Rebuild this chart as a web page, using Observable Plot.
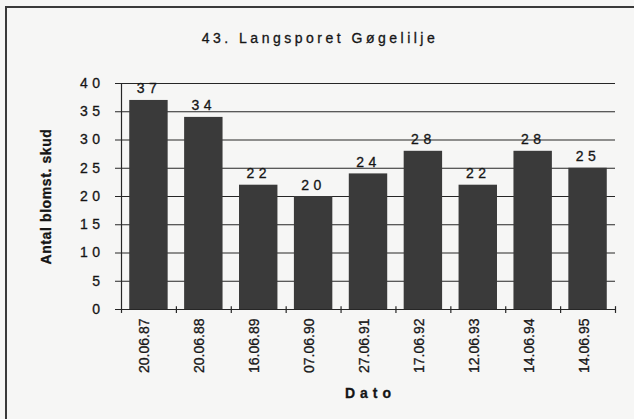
<!DOCTYPE html>
<html>
<head>
<meta charset="utf-8">
<script src="https://cdn.jsdelivr.net/npm/d3@7"></script>
<script src="https://cdn.jsdelivr.net/npm/@observablehq/plot@0.6"></script>
<style>
  html, body { margin: 0; padding: 0; background: #f6f6f5; }
  #wrap { position: relative; width: 634px; height: 419px; overflow: hidden; font-family: "Liberation Sans", Arial, sans-serif; }
  #border { position: absolute; left: 5px; top: 6px; width: 700px; height: 500px; border-left: 2px solid #3a3a3a; border-top: 2px solid #3a3a3a; }
  #title { position: absolute; left: 0; top: 30px; width: 634px; text-align: center; font-size: 14px; letter-spacing: 3.5px; color: #151515; padding-left: 3px; -webkit-text-stroke: 0.3px #151515; }
  #chart { position: absolute; left: 0; top: 0; }
  #chart svg text { stroke: #151515; stroke-width: 0.3px; }
</style>
</head>
<body>
<div id="wrap">
  <div id="border"></div>
  <div id="chart"></div>
  <div id="title">43. Langsporet Gøgelilje</div>
</div>
<script>
const dates = ["20.06.87", "20.06.88", "16.06.89", "07.06.90", "27.06.91", "17.06.92", "12.06.93", "14.06.94", "14.06.95"];
const counts = [37, 34, 22, 20, 24, 28, 22, 28, 25];
const yTicks = [0, 5, 10, 15, 20, 25, 30, 35, 40];
const yLabel = "Antal blomst. skud";
const xLabel = "Dato";

const data = dates.map((d, i) => ({dato: d, antal: counts[i]}));

const chart = Plot.plot({
  width: 634,
  height: 419,
  marginLeft: 121,
  marginRight: 19,
  marginTop: 83,
  marginBottom: 110,
  style: {background: "transparent", fontFamily: "Liberation Sans, Arial, sans-serif", fontSize: "14px", color: "#151515"},
  x: {domain: dates, paddingInner: 0.3, paddingOuter: 0.15, round: false, label: null},
  y: {domain: [0, 40], label: null},
  marks: [
    Plot.gridY(yTicks, {stroke: "#262626", strokeOpacity: 1, strokeWidth: 1.2}),
    Plot.barY(data, {x: "dato", y: "antal", fill: "#3a3a3a"}),
    Plot.ruleY([0], {stroke: "#262626", strokeWidth: 1.2}),
    Plot.ruleX([dates[0]], {x: d => d, dx: -27.45, y1: 0, y2: 40, stroke: "#262626", strokeWidth: 1.2}),
    Plot.ruleX(dates, {x: d => d, dx: 27.45, y1: -0.7, y2: 0.5, stroke: "#262626", strokeWidth: 1.2}),
    Plot.ruleX([dates[0]], {x: d => d, dx: -27.45, y1: -0.7, y2: 0, stroke: "#262626", strokeWidth: 1.2}),
    Plot.axisY(yTicks, {tickSize: 6, tickPadding: 11, label: null, stroke: "#262626", fontSize: 14}),
    Plot.axisX({tickRotate: -90, tickSize: 0, tickPadding: 9, dx: -4, label: null, fontSize: 14}),
    Plot.text(data, {x: "dato", y: "antal", text: d => String(d.antal), lineAnchor: "bottom", dy: -7, fontSize: 14, fill: "#151515"}),
    Plot.text([yLabel], {frameAnchor: "left", textAnchor: "middle", lineAnchor: "middle", rotate: -90, dx: -75, fontWeight: "bold", fontSize: 14, fill: "#151515"}),
    Plot.text([xLabel], {frameAnchor: "bottom", textAnchor: "middle", lineAnchor: "middle", dy: 84, dx: 2, fontWeight: "bold", fontSize: 14, fill: "#151515"})
  ]
});
document.getElementById("chart").appendChild(chart);

// letter spacing, as in the reference's spaced-out typography
const svg = d3.select(chart);
svg.selectAll('g[aria-label="y-axis tick label"] text').style("letter-spacing", "4.5px");
const textGroups = svg.selectAll('g[aria-label="text"]').nodes();
d3.select(textGroups[0]).selectAll("text").style("letter-spacing", "4.5px");
d3.select(textGroups[1]).selectAll("text").style("letter-spacing", "0.6px");
d3.select(textGroups[2]).selectAll("text").style("letter-spacing", "5px");
</script>
</body>
</html>
